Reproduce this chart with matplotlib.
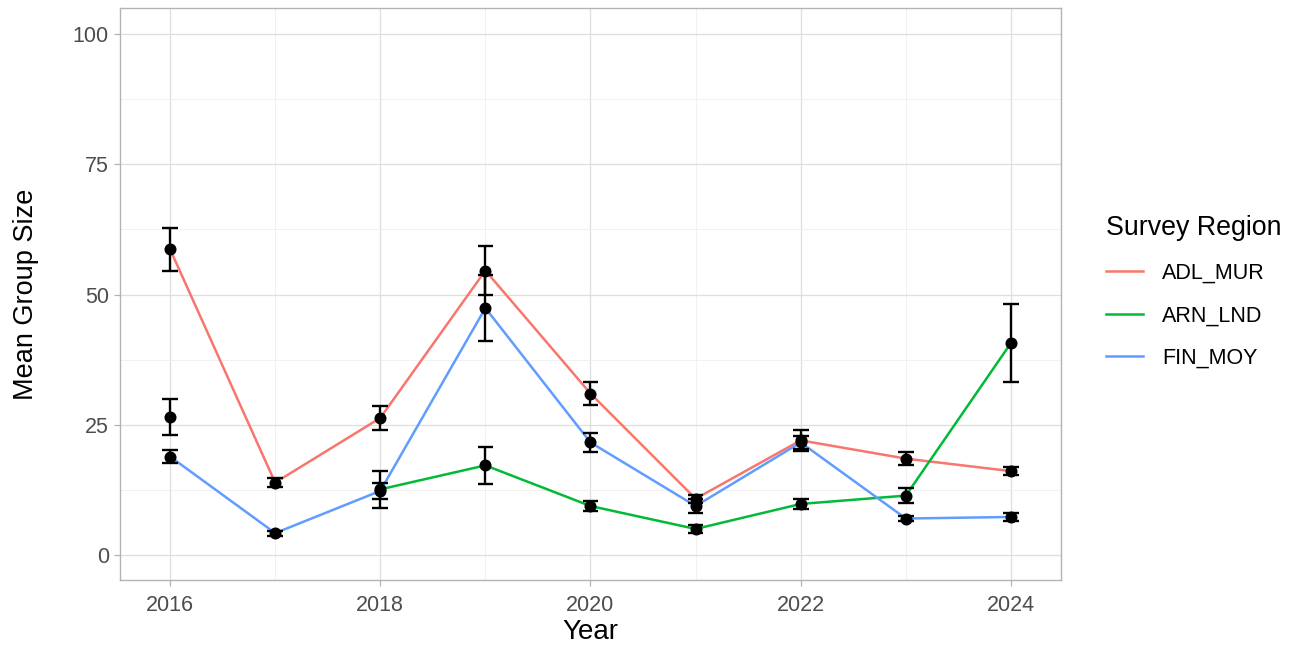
import numpy as np
import matplotlib
matplotlib.use("Agg")
import matplotlib.pyplot as plt
from matplotlib.ticker import MultipleLocator

plt.rcParams['font.family'] = ['Liberation Sans', 'DejaVu Sans']

years = [2016, 2017, 2018, 2019, 2020, 2021, 2022, 2023, 2024]
regions = ["ADL_MUR", "ARN_LND", "FIN_MOY"]
colors = {"ADL_MUR": "#F8766D", "ARN_LND": "#00BA38", "FIN_MOY": "#619CFF"}

nan = np.nan
mean_adl_mur = [58.7, 13.9, 26.3, 54.6, 31.0, 10.8, 22.0, 18.5, 16.1]
se_adl_mur = [4.1, 0.8, 2.3, 4.7, 2.3, 0.8, 2.0, 1.2, 0.8]
mean_arn_lnd = [26.5, nan, 12.6, 17.2, 9.4, 5.0, 9.8, 11.4, 40.7]
se_arn_lnd = [3.4, nan, 3.6, 3.6, 1.0, 0.7, 0.9, 1.5, 7.5]
mean_fin_moy = [18.9, 4.2, 12.3, 47.4, 21.6, 9.4, 21.6, 7.0, 7.3]
se_fin_moy = [1.3, 0.5, 1.6, 6.3, 1.9, 1.4, 1.3, 0.5, 0.7]

means = {"ADL_MUR": mean_adl_mur, "ARN_LND": mean_arn_lnd, "FIN_MOY": mean_fin_moy}
ses = {"ADL_MUR": se_adl_mur, "ARN_LND": se_arn_lnd, "FIN_MOY": se_fin_moy}

fig = plt.figure(figsize=(12.98, 6.46), dpi=100)
ax = fig.add_axes([120 / 1298, 1 - 580 / 646, 941 / 1298, 572 / 646])

# lines per region
for r in regions:
    ax.plot(years, means[r], color=colors[r], lw=1.8, label=r, zorder=3)

# error bars and points
cap_half = 0.075
for r in regions:
    m = np.array(means[r], dtype=float)
    s = np.array(ses[r], dtype=float)
    for x, mv, sv in zip(years, m, s):
        if np.isnan(mv):
            continue
        lo, hi = mv - sv, mv + sv
        ax.plot([x, x], [lo, hi], color="black", lw=1.7, zorder=4, solid_capstyle="butt")
        ax.plot([x - cap_half, x + cap_half], [lo, lo], color="black", lw=1.7, zorder=4, solid_capstyle="butt")
        ax.plot([x - cap_half, x + cap_half], [hi, hi], color="black", lw=1.7, zorder=4, solid_capstyle="butt")
    ax.scatter(years, m, s=75, color="black", zorder=5, linewidths=0)

ax.set_xlim(2015.524, 2024.476)
ax.set_ylim(-4.8, 105.0)
ax.set_xticks([2016, 2018, 2020, 2022, 2024])
ax.set_yticks([0, 25, 50, 75, 100])
ax.xaxis.set_minor_locator(MultipleLocator(1))
ax.yaxis.set_minor_locator(MultipleLocator(12.5))
ax.grid(which="major", color="#DEDEDE", lw=0.9)
ax.grid(which="minor", color="#EFEFEF", lw=0.6)
ax.set_axisbelow(True)
for sp in ax.spines.values():
    sp.set_color("#B3B3B3")
    sp.set_linewidth(1.0)
ax.tick_params(which="major", length=4, width=0.9, color="#B3B3B3",
               labelsize=15.5, labelcolor="#4D4D4D", pad=4)
ax.tick_params(axis="x", which="major", pad=7)
ax.tick_params(which="minor", length=0)

ax.set_xlabel("Year", fontsize=20, color="black", labelpad=2)
ax.set_ylabel("Mean Group Size", fontsize=19.5, color="black", labelpad=24)

handles = [plt.Line2D([], [], color=colors[r], lw=1.8) for r in regions]
leg = fig.legend(handles, regions, title="Survey Region", loc="upper left",
                 bbox_to_anchor=(1087 / 1298, 1 - 196 / 646), frameon=False,
                 fontsize=15.5, title_fontsize=19.3, handlelength=1.7,
                 labelspacing=1.0, handletextpad=0.9)
leg._legend_box.align = "left"

fig.savefig("out.png", dpi=100, facecolor="white")
